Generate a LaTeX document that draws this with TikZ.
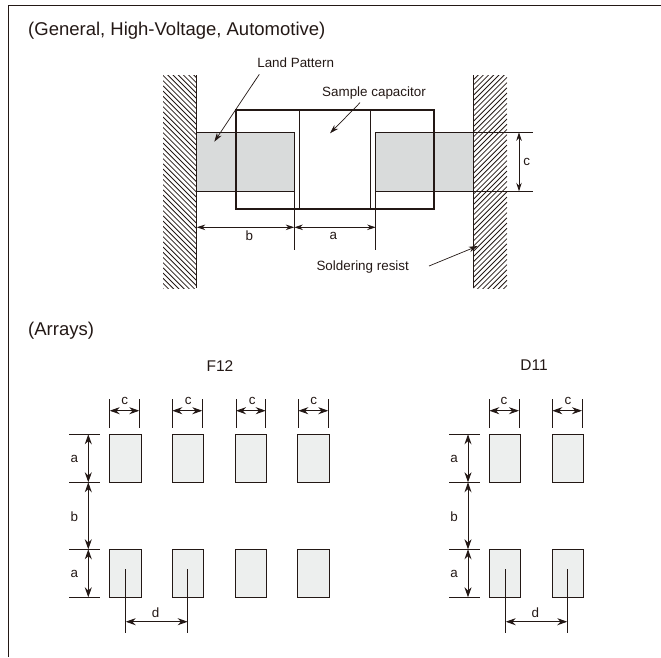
\documentclass[tikz,border=0pt]{standalone}
\usepackage{fontspec}
\setmainfont{Liberation Sans}
\usetikzlibrary{arrows.meta}
\definecolor{ink}{HTML}{231815}
\definecolor{landfill}{HTML}{D9DBDB}
\definecolor{padfill}{HTML}{EDEFEE}
\newcommand{\padrow}[3]{% prefix, top y, list of x
  \foreach \n/\xa in {#3} {
    \node[padbox] (#1\n) at (\xa,#2) {};
  }
}
\tikzset{
  ln/.style={draw=ink,line width=0.9pt},
  framele/.style={draw=ink,line width=1pt},
  capbox/.style={draw=ink,line width=1.9pt},
  padbox/.style={draw=ink,line width=0.9pt,fill=padfill,anchor=north west,minimum width=31.4pt,minimum height=48pt,inner sep=0pt,outer sep=0pt},
  dim/.style={draw=ink,line width=0.9pt,{Stealth[length=8.5pt,width=5.5pt]}-{Stealth[length=8.5pt,width=5.5pt]}},
  dimb/.style={draw=ink,line width=0.9pt,{Stealth[length=10pt,width=7pt]}-{Stealth[length=10pt,width=7pt]}},
  leader/.style={draw=ink,line width=0.7pt,-{Stealth[length=9pt,width=5.5pt]}},
  hatchln/.style={draw=ink,line width=0.8pt},
  head/.style={font=\fontsize{18.5}{22}\selectfont,text=ink,anchor=west,inner sep=0pt},
  lbl/.style={font=\fontsize{13.4}{16}\selectfont,text=ink,inner sep=0pt},
  arrname/.style={font=\fontsize{15.5}{18}\selectfont,text=ink,inner sep=0pt},
}
\begin{document}
\begin{tikzpicture}[x=1pt,y=-1pt]
\useasboundingbox (0,0) rectangle (661,657);
% frame
\coordinate (fa) at (8.5,657);
\coordinate (fb) at (8.5,5.5);
\coordinate (fc) at (661,5.5);
\draw[framele] (fa) -- (fb) -- (fc);
\node[head] (h1) at (28,30.5) {(General, High-Voltage, Automotive)};
\node[head] (h2) at (28,331) {(Arrays)};

% solder resist hatching
\begin{scope}
\clip (163,75) rectangle (196.7,288);
\foreach \k in {0,5.2,...,260} \draw[hatchln] (163,75-36+\k) -- (197,75+\k-2);
\end{scope}
\begin{scope}
\clip (473.3,75) rectangle (507,288);
\foreach \k in {0,5.2,...,260} \draw[hatchln] (473,75+\k) -- (507,75-36+\k+2);
\end{scope}
\draw[ln] (196.7,75) -- (196.7,288);
\draw[ln] (473.3,75) -- (473.3,288);

% lands
\fill[landfill] (196.7,132.3) rectangle (294.3,191.3);
\fill[landfill] (375.7,132.3) rectangle (473.3,191.3);
\coordinate (ll1) at (196.7,132.3);
\coordinate (ll2) at (294.3,132.3);
\coordinate (ll3) at (294.3,250.3);
\coordinate (ll4) at (196.7,191.3);
\coordinate (ll5) at (294.3,191.3);
\coordinate (rl1) at (532.7,132.3);
\coordinate (rl2) at (375.7,132.3);
\coordinate (rl3) at (375.7,250.3);
\coordinate (rl4) at (532.7,191.3);
\coordinate (rl5) at (375.7,191.3);
\draw[ln] (ll1) -- (ll2) -- (ll3);
\draw[ln] (ll4) -- (ll5);
\draw[ln] (rl1) -- (rl2) -- (rl3);
\draw[ln] (rl4) -- (rl5);

% capacitor
\node[capbox,anchor=north west,minimum width=197.7pt,minimum height=99pt,inner sep=0pt,outer sep=0pt] (cap) at (236,110.3) {};
\draw[ln] (299.7,110.3) -- (299.7,209.3);
\draw[ln] (370,110.3) -- (370,209.3);

% dimensions, top
\coordinate (db1) at (196.7,227.3);
\coordinate (db2) at (294.3,227.3);
\coordinate (db3) at (375.7,227.3);
\coordinate (dc1) at (519,132.3);
\coordinate (dc2) at (519,191.3);
\draw[dim] (db1) -- (db2);
\draw[dim] (db2) -- (db3);
\draw[dim] (dc1) -- (dc2);
\node[lbl] (lb) at (249.3,235.7) {b};
\node[lbl] (la) at (333.3,235.7) {a};
\node[lbl] (lc) at (526.7,162) {c};

% leaders
\node[lbl] (land) at (295.7,62.7) {Land Pattern};
\node[lbl] (samp) at (374,92.7) {Sample capacitor};
\node[lbl] (sold) at (362.7,267.3) {Soldering resist};
\coordinate (landt) at (214.3,141.7);
\coordinate (sampt) at (330,133.3);
\coordinate (soldt) at (477.7,246);
\draw[leader] (259.3,74.3) -- (landt);
\draw[leader] (360,102.7) -- (sampt);
\draw[leader] (429,266) -- (soldt);

% arrays
\node[arrname] (f12) at (220,366) {F12};
\node[arrname] (d11) at (534,365) {D11};
\padrow{fu}{434.3}{1/109.7,2/172.4,3/235.1,4/297.7}
\padrow{fd}{549.3}{1/109.7,2/172.4,3/235.1,4/297.7}
\padrow{du}{434.3}{1/489.3,2/552.2}
\padrow{dd}{549.3}{1/489.3,2/552.2}

% c dimensions
\foreach \xl/\xr/\xt in {109.7/139.3/124.7,172.3/202.3/188.3,236/265.7/252.3,298.3/328.3/313.7,489.3/519/504,552.3/582/568} {
  \draw[ln] (\xl,399) -- (\xl,428.3);
  \draw[ln] (\xr,399) -- (\xr,428.3);
  \draw[dimb] (\xl,410.7) -- (\xr,410.7);
  \node[lbl] at (\xt,400.7) {c};
}
% a b a dimensions
\foreach \xs/\xa/\xt in {69.3/88.3/74.3,449/468/454} {
  \foreach \yy in {434.3,482.3,549.3,597.3}
    \draw[ln] (\xs,\yy) -- (\xs+31,\yy);
  \draw[dimb] (\xa,434.3) -- (\xa,482.3);
  \draw[dimb] (\xa,482.3) -- (\xa,549.3);
  \draw[dimb] (\xa,549.3) -- (\xa,597.3);
  \node[lbl] at (\xt,459.3) {a};
  \node[lbl] at (\xt,516.3) {b};
  \node[lbl] at (\xt,574) {a};
}
% d dimensions
\foreach \xl/\xr/\xt in {125.7/187.7/155.7,505.7/567.3/535.3} {
  \draw[ln] (\xl,569) -- (\xl,633.3);
  \draw[ln] (\xr,569) -- (\xr,633.3);
  \draw[dimb] (\xl,621.7) -- (\xr,621.7);
  \node[lbl] at (\xt,612.7) {d};
}
\end{tikzpicture}
\end{document}
